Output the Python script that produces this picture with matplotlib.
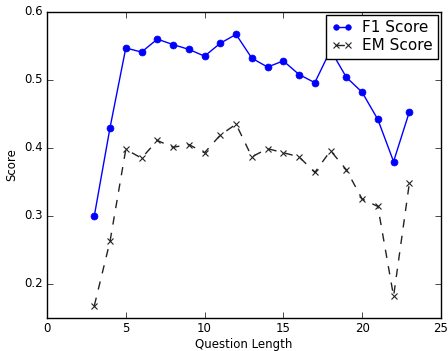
import matplotlib
matplotlib.use("Agg")
import matplotlib.pyplot as plt

plt.style.use("classic")

question_length = [3, 4, 5, 6, 7, 8, 9, 10, 11, 12, 13, 14, 15, 16, 17, 18, 19, 20, 21, 22, 23]
f1_score = [0.300, 0.430, 0.547, 0.541, 0.560, 0.552, 0.545, 0.535, 0.554, 0.567, 0.532,
            0.519, 0.528, 0.508, 0.496, 0.544, 0.504, 0.482, 0.442, 0.380, 0.453]
em_score = [0.168, 0.263, 0.398, 0.385, 0.411, 0.401, 0.405, 0.393, 0.419, 0.435, 0.387,
            0.399, 0.393, 0.387, 0.364, 0.396, 0.368, 0.325, 0.314, 0.182, 0.348]

fig = plt.figure(figsize=(4.48, 3.51), dpi=100, facecolor="white")
ax = fig.add_axes([0.105, 0.094, 0.879, 0.872])

ax.plot(question_length, f1_score, "b-o", lw=1, ms=5, mec="b", label="F1 Score")
ax.plot(question_length, em_score, "--x", lw=1, ms=5, mew=0.8, color="#222222", label="EM Score")

ax.set_xlim(0, 25)
ax.set_ylim(0.15, 0.6)
ax.set_xticks([0, 5, 10, 15, 20, 25])
ax.set_yticks([0.2, 0.3, 0.4, 0.5, 0.6])
ax.tick_params(labelsize=8.5, pad=3)
ax.set_xlabel("Question Length", fontsize=8.5, labelpad=2)
ax.set_ylabel("Score", fontsize=8.5, labelpad=4)
ax.legend(loc="upper right", fontsize=11, numpoints=2, handlelength=1.4,
          labelspacing=0.2, borderpad=0.35, handletextpad=0.6,
          borderaxespad=0.2, markerscale=0.8)

fig.savefig("out.png", dpi=100, facecolor="white")
